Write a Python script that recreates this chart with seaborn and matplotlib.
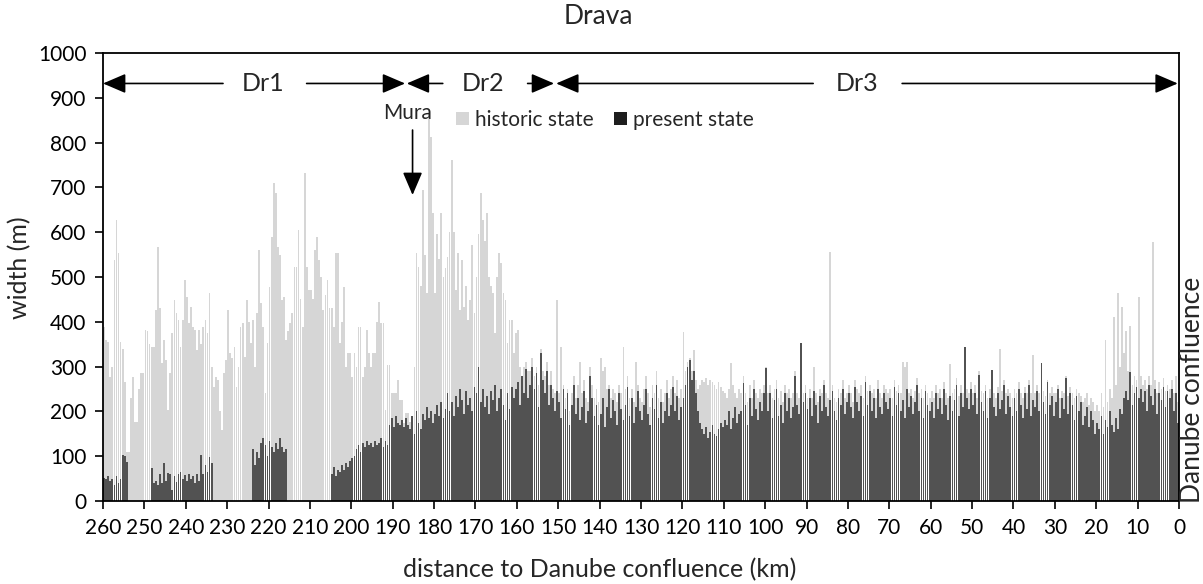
import matplotlib
matplotlib.use("Agg")
import matplotlib.pyplot as plt
import seaborn as sns
import pandas as pd
from matplotlib.patches import Patch

# ---------------- data (width in m, 0.5 km bins from km 260 down to km 0) ----------------
hist_260_210 = [389,360,356,277,300,538,627,553,356,340,266,110,110,230,277,177,177,250,285,285,
                381,379,350,343,343,427,568,430,307,359,315,203,285,374,449,420,404,344,404,493,
                456,397,434,389,381,337,381,350,389,404,374,464,300,255,277,270,200,158,285,315,
                427,330,320,344,255,300,389,397,322,449,400,352,404,300,420,560,441,389,240,352,
                478,590,710,687,568,550,449,456,359,380,397,420,523,523,605,450,389,732,523,471]
hist_210_160 = [471,450,560,590,538,500,427,460,493,430,430,389,553,553,352,400,478,300,330,330,
                277,330,300,389,389,277,300,381,330,300,330,330,400,444,397,397,203,303,303,240,
                240,240,270,225,225,173,196,196,177,177,300,553,523,480,694,550,464,866,813,643,
                464,597,540,643,500,520,545,600,761,600,471,553,427,538,434,480,404,449,572,419,
                500,597,687,627,580,643,500,480,464,374,500,553,531,464,449,352,404,404,330,374]
hist_160_110 = [381,300,270,300,310,290,290,320,280,300,260,340,290,280,310,260,290,250,240,449,
                240,344,260,230,250,200,240,280,230,260,310,240,270,230,220,300,260,230,250,220,
                320,290,300,250,260,230,250,240,220,260,240,344,250,280,230,250,220,310,260,230,
                220,250,280,240,210,260,240,290,230,250,220,240,270,230,250,280,240,270,230,250,
                377,290,310,320,290,337,270,250,260,270,265,275,260,270,265,260,250,265,255,245]
hist_110_60 = [240,230,250,308,260,240,230,250,240,280,240,220,260,230,270,240,230,250,240,260,
               300,240,260,230,250,270,230,245,220,260,240,250,230,240,290,240,230,352,240,260,
               230,250,230,300,240,220,250,240,270,240,230,556,260,230,220,250,240,270,230,240,
               260,240,220,270,250,240,260,230,280,245,260,240,250,230,270,240,230,260,250,240,
               250,230,270,245,260,240,310,300,310,240,250,230,245,275,240,250,230,260,240,230]
hist_60_0 = [245,230,260,240,250,230,265,240,230,305,240,250,275,235,260,240,344,250,240,265,
             240,260,230,290,245,240,260,230,250,292,240,230,255,340,245,270,240,250,240,230,
             250,240,265,240,230,255,240,270,240,325,240,260,240,308,245,235,270,240,255,240,
             240,260,230,245,240,280,235,255,240,230,250,240,235,220,230,240,215,230,220,200,
             215,200,240,210,359,220,250,230,411,260,464,300,434,330,380,290,390,260,280,270,
             456,280,260,270,250,280,260,578,270,240,265,250,275,245,260,250,270,240,280,220]

pres_260_210 = [52,50,55,45,50,35,55,40,50,103,100,87,0,0,0,0,0,0,0,0,
                0,0,0,74,40,45,35,60,40,85,45,62,60,25,55,42,60,65,50,58,
                45,60,50,55,40,60,45,103,60,80,65,98,85,0,0,0,0,0,0,0,
                0,0,0,0,0,0,0,0,0,0,0,0,115,80,110,95,130,140,125,100,
                135,120,110,130,115,140,120,110,115,0,0,0,0,0,0,0,0,0,0,0]
pres_210_160 = [0,0,0,0,0,0,0,0,0,0,60,75,55,70,65,80,70,85,75,90,
                95,100,115,125,110,130,120,135,125,130,120,135,125,130,140,120,135,125,170,185,
                165,190,175,170,180,165,185,170,160,190,150,200,175,160,195,180,210,185,200,175,
                195,215,190,220,185,205,240,200,220,190,235,210,250,225,195,245,215,230,200,255,
                240,300,220,250,210,235,195,245,225,260,200,230,250,215,180,240,205,255,230,250]
pres_160_110 = [265,215,280,240,295,230,260,300,250,285,210,330,270,240,290,215,260,230,200,245,
                220,185,250,205,240,170,215,260,195,230,180,210,245,175,200,280,230,190,215,170,
                195,230,165,210,250,185,225,200,170,240,205,180,215,255,190,230,175,210,245,200,
                180,215,250,195,170,230,205,260,185,220,175,200,240,190,215,255,200,235,180,210,
                230,260,300,315,270,290,240,200,175,160,150,165,140,155,170,150,145,160,175,165]
pres_110_60 = [180,170,200,160,185,210,175,195,200,263,215,170,230,190,250,205,180,220,200,240,
               297,200,240,185,225,250,190,215,175,240,200,230,185,210,280,215,195,352,220,240,
               205,230,190,245,215,175,235,200,260,210,190,225,245,200,180,230,215,250,195,220,
               240,210,185,255,220,200,235,190,265,215,245,200,230,185,250,210,195,240,220,205,
               230,190,255,215,240,200,225,185,250,210,235,195,220,260,200,230,185,245,215,200]
pres_60_0 = [220,185,240,205,230,195,250,215,180,235,200,225,260,190,240,210,344,230,205,250,
             215,240,195,281,220,200,245,185,230,292,210,190,240,205,225,260,195,235,210,190,
             230,200,250,215,185,240,205,260,190,225,210,245,200,308,220,195,265,215,235,190,
             220,250,185,230,205,275,195,240,215,180,235,200,220,170,190,210,165,200,180,150,
             175,160,190,150,180,165,200,170,155,185,160,205,195,230,245,225,288,215,240,255,
             230,250,220,245,200,260,235,215,250,195,240,225,255,210,245,230,250,200,240,175]

x_ticks = list(range(260, -1, -10))
y_ticks = list(range(0, 1001, 100))
reaches = ["Dr1", "Dr2", "Dr3"]
legend_labels = ["historic state", "present state"]

historic = hist_260_210 + hist_210_160 + hist_160_110 + hist_110_60 + hist_60_0
present = pres_260_210 + pres_210_160 + pres_160_110 + pres_110_60 + pres_60_0
km = [round(259.75 - 0.5 * i, 2) for i in range(len(historic))]
df = pd.DataFrame({"km": km, "historic": historic, "present": present})

# ---------------- style ----------------
sns.set_style("ticks")
plt.rcParams["font.family"] = ["Lato", "DejaVu Sans"]
FS = 15
LFS = 18
H_COLOR = "#d6d6d6"
P_COLOR = "#525252"

W, H = 1203, 584
fig = plt.figure(figsize=(W / 100, H / 100), dpi=100)
ax = fig.add_axes([103 / W, (H - 501) / H, (1179 - 103) / W, (501 - 53) / H])

sns.barplot(data=df, x="km", y="historic", native_scale=True, color=H_COLOR,
            saturation=1, width=0.85, linewidth=0, errorbar=None, ax=ax)
sns.barplot(data=df, x="km", y="present", native_scale=True, color=P_COLOR,
            saturation=1, width=0.85, linewidth=0, errorbar=None, ax=ax)

ax.set_xlim(260, 0)
ax.set_ylim(0, 1000)
ax.set_xticks(x_ticks)
ax.set_xticklabels([str(t) for t in x_ticks])
ax.set_yticks(y_ticks)
ax.tick_params(direction="out", length=6, width=1.2, labelsize=FS, colors="black", pad=6)
for s in ax.spines.values():
    s.set_visible(True)
    s.set_linewidth(1.3)
    s.set_color("black")
ax.set_xlabel("")
ax.set_ylabel("")

fig.text(600 / W, 1 - 570 / H, "distance to Danube confluence (km)", fontsize=LFS,
         ha="center", va="center")
fig.text(20 / W, 1 - 268 / H, "width (m)", fontsize=LFS, rotation=90,
         ha="center", va="center")
fig.text(598 / W, 1 - 17 / H, "Drava", fontsize=19, ha="center", va="center")
fig.text(1192 / W, (H - 503) / H, "Danube confluence", fontsize=19, rotation=90,
         ha="center", va="bottom")

# reach arrows
Y_ARR = 932
arrow_kw = dict(arrowstyle="-|>,head_length=0.7,head_width=0.3", color="black", lw=1.2,
                shrinkA=0, shrinkB=0, mutation_scale=20)
segments = [  # (start of line, tip)
    (231, 260), (210.8, 187.0),
    (177.9, 186.6), (157.4, 151.0),
    (88.4, 150.5), (66.9, 0.3),
]
for start, tip in segments:
    ax.annotate("", xy=(tip, Y_ARR), xytext=(start, Y_ARR), arrowprops=arrow_kw)
for label, xc in zip(reaches, [221.4, 168.2, 77.7]):
    ax.text(xc, Y_ARR, label, fontsize=18, ha="center", va="center")

# Mura inflow
ax.text(186.3, 866, "Mura", fontsize=15, ha="center", va="center")
ax.annotate("", xy=(185.2, 683), xytext=(185.2, 828), arrowprops=arrow_kw)

handles = [Patch(facecolor=H_COLOR, edgecolor="none"), Patch(facecolor="#1e1e1e", edgecolor="none")]
ax.legend(handles, legend_labels, ncol=2, frameon=False, loc="center left",
          bbox_to_anchor=((456 - 103) / 1076, (501 - 120) / 448), fontsize=15,
          handlelength=0.6, handleheight=0.6, handletextpad=0.3, columnspacing=1.0,
          borderpad=0, borderaxespad=0)

fig.savefig("out.png", dpi=100)
